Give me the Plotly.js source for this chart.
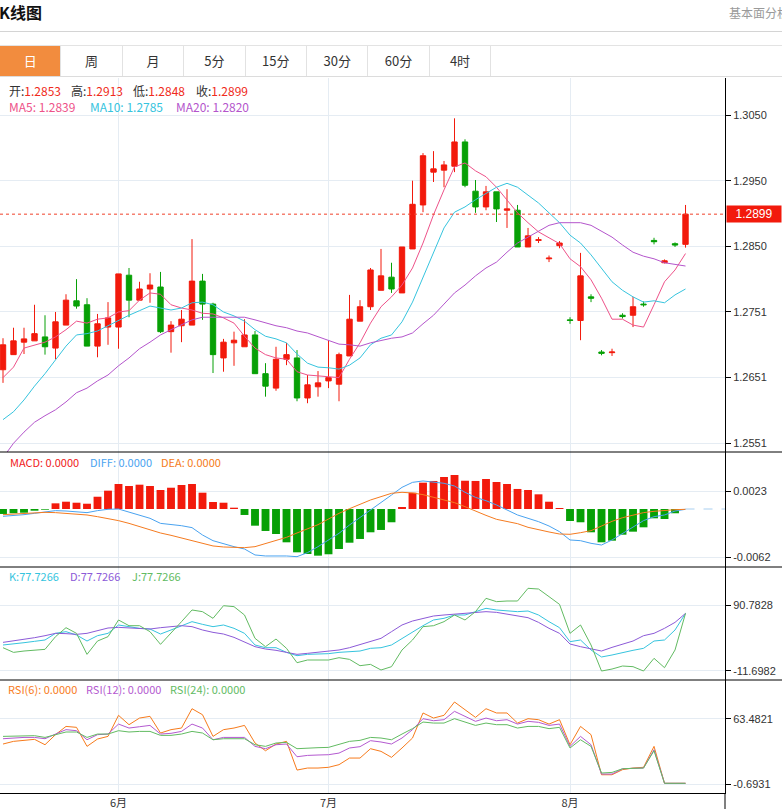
<!DOCTYPE html>
<html><head><meta charset="utf-8">
<script src="https://cdn.plot.ly/plotly-3.0.1.min.js"></script>
<style>
body{margin:0;width:782px;height:809px;overflow:hidden;background:#fff;font-family:"Noto Sans CJK SC",sans-serif;position:relative}
#chart{position:absolute;left:0;top:0;width:782px;height:809px}
.abs{position:absolute;white-space:nowrap;line-height:12px;font-size:12px;z-index:10}
.sm{font-size:11px;line-height:11px}
.tab{position:absolute;top:0;height:30px;line-height:30px;text-align:center;font-size:13px;color:#333;border-right:1px solid #e2e2e2;box-sizing:border-box}
</style></head><body>
<div id="chart"></div>
<div id="over"></div>
<script>
// ---------- data ----------
const open = [1.2662,1.2685,1.2704,1.2706,1.2712,1.2695,1.2730,1.2767,1.2761,1.2698,
1.2727,1.2727,1.2806,1.2768,1.2785,1.2788,1.2720,1.2729,1.2730,1.2797,
1.2762,1.2680,1.2703,1.2697,1.2715,1.2656,1.2634,1.2678,1.2680,1.2619,
1.2636,1.2645,1.2640,1.2683,1.2736,1.2758,1.2783,1.2803,1.2779,1.2846,
1.2913,1.2963,1.2966,1.2972,1.3009,1.2934,1.2910,1.2933,1.2905,1.2905,
1.2849,1.2859,1.2831,1.2851,1.2738,1.2737,1.2773,1.2689,1.2688,1.2745,
1.2745,1.2762,1.2859,1.2825,1.2854,1.2853];
const high = [1.2710,1.2726,1.2726,1.2761,1.2745,1.2750,1.2777,1.2800,1.2771,1.2747,
1.2765,1.2808,1.2817,1.2796,1.2809,1.2811,1.2736,1.2753,1.2861,1.2808,
1.2764,1.2709,1.2720,1.2739,1.2721,1.2672,1.2697,1.2703,1.2692,1.2654,
1.2660,1.2707,1.2688,1.2776,1.2768,1.2817,1.2846,1.2825,1.2849,1.2950,
1.2992,1.2995,1.2980,1.3045,1.3013,1.2951,1.2942,1.2933,1.2937,1.2913,
1.2878,1.2864,1.2836,1.2858,1.2742,1.2840,1.2777,1.2692,1.2694,1.2748,
1.2773,1.2766,1.2863,1.2830,1.2856,1.2913];
const low = [1.2642,1.2685,1.2686,1.2706,1.2685,1.2678,1.2730,1.2755,1.2698,1.2681,
1.2700,1.2694,1.2742,1.2768,1.2764,1.2718,1.2688,1.2704,1.2730,1.2738,
1.2657,1.2659,1.2668,1.2697,1.2656,1.2621,1.2630,1.2669,1.2614,1.2611,
1.2621,1.2634,1.2614,1.2683,1.2736,1.2753,1.2783,1.2779,1.2779,1.2846,
1.2902,1.2948,1.2940,1.2963,1.2940,1.2901,1.2905,1.2887,1.2878,1.2849,
1.2849,1.2855,1.2826,1.2847,1.2732,1.2707,1.2765,1.2684,1.2683,1.2740,
1.2727,1.2758,1.2853,1.2824,1.2849,1.2848];
const close = [1.2700,1.2706,1.2709,1.2717,1.2697,1.2735,1.2768,1.2759,1.2698,1.2732,
1.2741,1.2808,1.2768,1.2785,1.2791,1.2720,1.2730,1.2739,1.2797,1.2762,
1.2685,1.2704,1.2707,1.2715,1.2656,1.2637,1.2678,1.2685,1.2619,1.2639,
1.2642,1.2650,1.2685,1.2739,1.2758,1.2814,1.2805,1.2785,1.2849,1.2914,
1.2988,1.2968,1.2974,1.3009,1.2943,1.2910,1.2933,1.2907,1.2907,1.2849,
1.2866,1.2860,1.2832,1.2855,1.2737,1.2805,1.2771,1.2687,1.2689,1.2743,
1.2758,1.2761,1.2857,1.2828,1.2852,1.2899];
const ma5 = [1.2650,1.2666,1.2695,1.2700,1.2704,1.2712,1.2723,1.2736,1.2733,1.2739,
1.2741,1.2750,1.2752,1.2768,1.2779,1.2777,1.2761,1.2756,1.2753,1.2748,
1.2747,1.2741,1.2733,1.2713,1.2695,1.2685,1.2680,1.2678,1.2659,1.2654,
1.2653,1.2651,1.2650,1.2678,1.2703,1.2733,1.2758,1.2773,1.2791,1.2817,
1.2855,1.2898,1.2936,1.2971,1.2977,1.2965,1.2956,1.2940,1.2921,1.2901,
1.2886,1.2872,1.2863,1.2854,1.2831,1.2819,1.2799,1.2771,1.2739,1.2739,
1.2730,1.2727,1.2761,1.2796,1.2814,1.2839];
const ma10 = [1.2586,1.2598,1.2616,1.2637,1.2656,1.2677,1.2698,1.2715,1.2717,1.2721,
1.2729,1.2738,1.2745,1.2752,1.2759,1.2756,1.2753,1.2756,1.2764,1.2765,
1.2761,1.2750,1.2744,1.2736,1.2723,1.2713,1.2709,1.2703,1.2686,1.2672,
1.2666,1.2665,1.2663,1.2669,1.2680,1.2700,1.2710,1.2715,1.2735,1.2765,
1.2803,1.2841,1.2878,1.2902,1.2910,1.2921,1.2930,1.2940,1.2946,1.2940,
1.2928,1.2916,1.2901,1.2886,1.2867,1.2855,1.2837,1.2817,1.2796,1.2783,
1.2773,1.2765,1.2767,1.2764,1.2776,1.2785];
const ma20 = [1.2528,1.2550,1.2567,1.2582,1.2592,1.2601,1.2613,1.2627,1.2634,1.2645,
1.2654,1.2668,1.2680,1.2694,1.2704,1.2715,1.2723,1.2730,1.2738,1.2742,
1.2742,1.2742,1.2742,1.2742,1.2738,1.2733,1.2729,1.2726,1.2721,1.2718,
1.2712,1.2706,1.2701,1.2700,1.2698,1.2703,1.2707,1.2710,1.2712,1.2718,
1.2732,1.2745,1.2762,1.2779,1.2791,1.2805,1.2817,1.2826,1.2841,1.2855,
1.2864,1.2873,1.2882,1.2886,1.2886,1.2886,1.2882,1.2873,1.2864,1.2852,
1.2841,1.2835,1.2831,1.2825,1.2822,1.2820];
const macdHist = [-0.00064,-0.00055,-0.00048,-0.00022,-0.00009,0.00073,0.00094,0.00081,0.00068,0.00158,
0.00236,0.00322,0.00296,0.00313,0.00296,0.00245,0.00274,0.00309,0.00322,0.0021,
0.0009,0.00081,0.00017,-0.00077,-0.00215,-0.00283,-0.00322,-0.00429,-0.00558,-0.0058,
-0.00601,-0.00583,-0.00515,-0.00434,-0.00386,-0.003,-0.0027,-0.00171,0.00026,0.0021,
0.00339,0.00361,0.00412,0.00438,0.00364,0.00361,0.00386,0.00348,0.00322,0.00258,
0.00245,0.00189,0.00094,0.00013,-0.00155,-0.00171,-0.003,-0.00429,-0.00408,-0.00331,
-0.00292,-0.00236,-0.0012,-0.00129,-0.00055,0];
const diff = [-0.00094,-0.00086,-0.00073,-0.00056,-0.00039,-0.00021,-0.00026,-0.00039,-0.00047,-0.00021,
-0.00004,0,-0.00043,-0.00077,-0.0012,-0.00185,-0.00197,-0.00215,-0.0024,-0.00335,
-0.00408,-0.00451,-0.00485,-0.00515,-0.00592,-0.00605,-0.00601,-0.00605,-0.00614,-0.00562,
-0.00485,-0.00399,-0.00313,-0.00206,-0.00112,-0.00013,0.00082,0.0018,0.00279,0.00343,
0.00361,0.00348,0.00331,0.00296,0.00215,0.0015,0.00107,0.00052,-0.00013,-0.00077,
-0.0012,-0.00163,-0.00219,-0.00292,-0.00399,-0.00408,-0.00442,-0.00464,-0.00399,-0.00313,
-0.00236,-0.0015,-0.00099,-0.00077,-0.00026,-0.00004];
const dea = [-0.00073,-0.00064,-0.00056,-0.00047,-0.00043,-0.00047,-0.00056,-0.00069,-0.00077,-0.00099,
-0.0012,-0.0015,-0.00185,-0.00228,-0.0027,-0.00309,-0.00339,-0.00373,-0.00408,-0.00446,
-0.00476,-0.00489,-0.00498,-0.00498,-0.00485,-0.00446,-0.00408,-0.00365,-0.00309,-0.00258,
-0.00202,-0.00129,-0.00056,0.00004,0.0006,0.00116,0.00159,0.00202,0.00215,0.00206,
0.00185,0.0015,0.00124,0.00082,0.0003,-0.0003,-0.00082,-0.00133,-0.00159,-0.00189,
-0.00236,-0.0027,-0.00296,-0.00322,-0.00326,-0.00305,-0.00279,-0.00219,-0.00159,-0.00112,
-0.00077,-0.00047,-0.0003,-0.00017,-0.00009,-0.00004];
const kLine = [28.4,29.9,32.0,34.1,36.2,46.6,49.2,44.0,34.6,42.9,
46.6,59.6,57.0,54.4,53.3,45.5,51.8,58.5,64.8,60.6,
57.0,59.6,54.4,46.6,28.4,24.2,24.2,16.9,11.7,13.8,
14.3,14.9,16.9,17.5,19.0,23.2,24.2,28.4,38.8,49.2,
58.5,67.4,70.0,75.2,75.2,80.4,85.6,83.0,81.4,80.4,
81.4,75.2,64.8,55.4,33.6,36.2,20.6,9.7,12.8,16.9,
20.1,23.2,34.6,36.2,51.8,77.7266];
const dLine = [32.5,34.6,37.2,39.8,42.9,46.6,46.1,45.0,46.6,51.3,
54.9,55.9,55.4,54.4,53.3,55.4,57.5,58.5,57.0,51.8,
48.1,45.5,40.3,33.6,25.8,22.1,20.1,16.9,13.8,15.4,
16.9,19.0,20.6,24.2,29.4,33.6,38.8,49.2,59.6,65.8,
70.0,73.6,75.2,76.7,77.8,79.3,80.4,79.3,76.2,74.1,
71.0,63.7,54.4,46.6,29.9,25.8,22.1,19.0,24.7,29.4,
34.6,42.9,46.6,54.4,63.7,77.7266];
const jLine = [24.2,16.9,19.0,20.6,21.6,41.4,55.4,46.6,13.8,34.6,
41.4,67.4,58.5,58.5,49.2,29.4,46.6,64.8,83.0,80.4,
70.0,89.7,88.2,75.2,38.8,25.8,37.7,23.2,0.8,5.0,
5.0,5.0,8.6,6.0,-3.9,-1.8,-10.6,-5.4,20.6,36.2,
57.0,58.5,64.8,75.2,67.4,80.4,101.2,96.0,97.0,97.0,
116.8,115.7,103.8,91.8,46.6,59.6,28.4,-12.2,-9.1,-4.4,
-5.4,-12.2,7.6,-7.0,20.6,77.7266];
const rsi6 = [38.6,41.2,42.2,43.2,37.9,47.8,55.9,55.0,36.3,43.5,
46.1,66.8,57.6,64.1,65.8,49.4,52.7,54.3,73.3,67.4,
46.1,52.7,54.3,56.9,39.6,32.0,38.6,41.2,13.0,15.0,
15.0,15.7,18.3,24.8,24.8,34.0,31.4,25.5,34.7,44.5,
69.1,64.1,66.8,79.9,72.3,64.8,73.3,69.1,69.1,59.2,
63.5,62.5,58.2,62.5,37.9,55.9,47.8,8.4,8.4,13.4,
15.0,15.7,36.3,0,0,0];
const rsi12 = [43.8,44.5,45.1,45.1,43.8,48.4,52.7,51.7,42.8,47.8,
48.4,58.2,54.3,55.6,56.9,48.4,49.1,51.0,58.2,54.3,
42.8,45.1,45.1,45.1,36.3,34.0,37.9,38.6,26.1,27.4,
27.8,28.1,29.7,34.7,36.0,41.9,40.6,38.6,44.5,52.7,
63.5,61.5,62.5,70.7,65.8,60.9,64.1,61.5,62.5,58.2,
60.9,59.9,56.9,58.2,36.3,46.1,37.9,9.1,9.1,14.3,
14.7,15.0,33.0,0,0,0];
const rsi24 = [46.1,46.4,46.8,46.8,45.1,47.8,50.4,50.4,45.1,48.4,
48.4,51.7,50.4,51.0,51.0,47.1,47.1,48.4,51.0,49.4,
42.8,43.8,43.8,43.8,37.9,36.3,39.6,40.2,34.0,34.7,
35.0,35.3,38.6,41.2,42.2,45.1,44.5,42.8,48.4,53.7,
60.2,59.2,59.2,63.5,60.2,56.9,59.2,57.6,57.6,54.3,
55.9,55.9,53.7,55.0,34.7,42.8,36.3,10.1,10.7,14.3,
14.7,15.0,32.0,0,0,0];
const monthTickIdx = [11, 31, 54];
const monthLabels = ['6月','7月','8月'];
const priceTicks = [1.3050,1.2950,1.2850,1.2750,1.2650,1.2550];
const priceTickText = ['1.3050','1.2950','1.2850','1.2751','1.2651','1.2551'];
const macdTicks = [0.0023,-0.0062], macdTickText = ['0.0023','-0.0062'];
const kdjTicks = [90.7828,-11.6982], kdjTickText = ['90.7828','-11.6982'];
const rsiTicks = [63.4821,-0.6931], rsiTickText = ['63.4821','-0.6931'];
const tabs = ['日','周','月','5分','15分','30分','60分','4时'];

// ---------- chart ----------
const N = close.length;
const idx = close.map((_, i) => i);
const RED = '#f21a0c', GREEN = '#07a006', GRID = '#e5ecf3';
const C_MA5 = '#ee5289', C_MA10 = '#36c4de', C_MA20 = '#b455cc';
const C_DIFF = '#4aa3f0', C_DEA = '#f57b20';
const C_K = '#36c4de', C_D = '#8c5ad8', C_J = '#62bb62';
const C_R6 = '#f77b1c', C_R12 = '#b45ad0', C_R24 = '#62bb62';

function line(y, color, ya){ return {type:'scatter', mode:'lines', x: idx, y, yaxis: ya, line:{color, width:1}, hoverinfo:'skip'}; }

const data = [
  {type:'candlestick', x: idx, open, high, low, close, yaxis:'y', whiskerwidth:0, hoverinfo:'skip',
   increasing:{line:{color:RED, width:1}, fillcolor:RED},
   decreasing:{line:{color:GREEN, width:1}, fillcolor:GREEN}},
  line(ma5, C_MA5, 'y'), line(ma10, C_MA10, 'y'), line(ma20, C_MA20, 'y'),
  {type:'bar', x: idx, y: macdHist, yaxis:'y2', hoverinfo:'skip',
   marker:{color: macdHist.map(v => v >= 0 ? RED : GREEN), line:{width:0}}},
  line(diff, C_DIFF, 'y2'), line(dea, C_DEA, 'y2'),
  line(kLine, C_K, 'y3'), line(dLine, C_D, 'y3'), line(jLine, C_J, 'y3'),
  line(rsi6, C_R6, 'y4'), line(rsi12, C_R12, 'y4'), line(rsi24, C_R24, 'y4')
];

const tickFont = {family:'Liberation Sans, Arial, sans-serif', size:11, color:'#333'};
function yax(domain, range, tv, tt){
  return {domain, range, tickvals: tv, ticktext: tt, side:'right', anchor:'x',
    showline:true, linecolor:'#000', linewidth:1, ticks:'outside', ticklen:5, tickcolor:'#000',
    showgrid:true, gridcolor:GRID, gridwidth:1, zeroline:false, tickfont: tickFont, fixedrange:true};
}
const PH = 715; // plot height in px
const pY = y => (793 - y) / PH;
const last = N - 1;

const layout = {
  width:782, height:809, margin:{l:0, r:57, t:78, b:16, autoexpand:false},
  paper_bgcolor:'rgba(0,0,0,0)', plot_bgcolor:'#fff', showlegend:false, hovermode:false,
  boxgap:0.27, bargap:0.25,
  xaxis:{range:[-0.286, 68.76], anchor:'y4', tickvals: monthTickIdx, ticktext: monthLabels,
    showgrid:true, gridcolor:GRID, showline:true, linecolor:'#000', linewidth:1,
    ticks:'', zeroline:false, rangeslider:{visible:false},
    tickfont:{family:'Noto Sans CJK SC', size:11, color:'#333'}, fixedrange:true},
  yaxis: yax([pY(452), 1], [1.25367, 1.31064], priceTicks, priceTickText),
  yaxis2: yax([pY(567), pY(452)], [-0.00747, 0.00734], macdTicks, macdTickText),
  yaxis3: yax([pY(680), pY(567)], [-26.2, 150.05], kdjTicks, kdjTickText),
  yaxis4: yax([0, pY(680)], [-9.53, 101.51], rsiTicks, rsiTickText),
  shapes: [
    {type:'line', xref:'paper', yref:'y', x0:0, x1:1, y0: close[last], y1: close[last], line:{color:'#f0402a', width:1, dash:'dot'}},
    {type:'line', xref:'x', yref:'y2', x0:last, x1:68.76, y0:0, y1:0, line:{color:'#a9cff0', width:1, dash:'dash'}},
    {type:'line', xref:'paper', yref:'paper', x0:0, x1:782/725, y0:pY(452), y1:pY(452), line:{color:'#000', width:1}},
    {type:'line', xref:'paper', yref:'paper', x0:0, x1:782/725, y0:pY(567), y1:pY(567), line:{color:'#000', width:1}},
    {type:'line', xref:'paper', yref:'paper', x0:0, x1:782/725, y0:pY(680), y1:pY(680), line:{color:'#000', width:1}},
    {type:'line', xref:'paper', yref:'paper', x0:1, x1:1, y0:0, y1:-16/PH, line:{color:'#000', width:1}}
  ],
  annotations: [
    {xref:'paper', yref:'y', x:1, y: close[last], xanchor:'left', yanchor:'middle', xshift:1,
     text: close[last].toFixed(4), showarrow:false, bgcolor:RED, width:52, height:14, borderpad:1,
     align:'center', font:{family:'Liberation Sans, Arial', size:12, color:'#fff'}}
  ]
};
Plotly.newPlot('chart', data, layout, {staticPlot:true, displayModeBar:false});

// ---------- header / labels ----------
const over = document.getElementById('over');
function add(html, style, cls){ const d = document.createElement('div'); d.className='abs' + (cls ? ' ' + cls : ''); d.style.cssText = style; d.innerHTML = html; over.appendChild(d); return d; }
add('K线图', 'left:-1px;top:4px;font-size:16px;line-height:16px;font-weight:bold;color:#111');
add('基本面分析', 'left:729px;top:7px;color:#9a9a9a');
add('', 'left:0;top:31px;width:782px;height:1px;background:#d4d4d4');
const tabBar = add('', 'left:0;top:45px;width:782px;height:30px;border-top:1px solid #e3e3e3;border-bottom:1px solid #dcdcdc;background:#fff');
tabs.forEach((t, i) => {
  const d = document.createElement('div'); d.className = 'tab';
  d.style.left = (i * 61.4) + 'px'; d.style.width = '61.4px';
  if (i === 0) { d.style.background = '#f28c3e'; d.style.color = '#fff'; }
  d.textContent = t; tabBar.appendChild(d);
});
const f4 = v => v.toFixed(4);
const seg = (lab, val, x, y) => add('<span style="color:#333">' + lab + '</span><span style="color:#f02a20">' + val + '</span>', 'left:' + x + 'px;top:' + y + 'px');
seg('开:', f4(open[last]), 9, 85);
seg('高:', f4(high[last]), 71, 85);
seg('低:', f4(low[last]), 133, 85);
seg('收:', f4(close[last]), 196, 85);
add('MA5: ' + f4(ma5[last]), 'left:9px;top:101px;color:' + C_MA5);
add('MA10: ' + f4(ma10[last]), 'left:90px;top:101px;color:' + C_MA10);
add('MA20: ' + f4(ma20[last]), 'left:176px;top:101px;color:' + C_MA20);
add('MACD: 0.0000', 'left:10px;top:457px;color:#f0201a', 'sm');
add('DIFF: 0.0000', 'left:90px;top:457px;color:' + C_DIFF, 'sm');
add('DEA: 0.0000', 'left:161px;top:457px;color:' + C_DEA, 'sm');
add('K:' + f4(kLine[last]), 'left:9px;top:571px;color:' + C_K, 'sm');
add('D:' + f4(dLine[last]), 'left:70px;top:571px;color:' + C_D, 'sm');
add('J:' + f4(jLine[last]), 'left:132px;top:571px;color:' + C_J, 'sm');
add('RSI(6): 0.0000', 'left:8px;top:684px;color:' + C_R6, 'sm');
add('RSI(12): 0.0000', 'left:86px;top:684px;color:' + C_R12, 'sm');
add('RSI(24): 0.0000', 'left:170px;top:684px;color:' + C_R24, 'sm');
</script>
</body></html>
